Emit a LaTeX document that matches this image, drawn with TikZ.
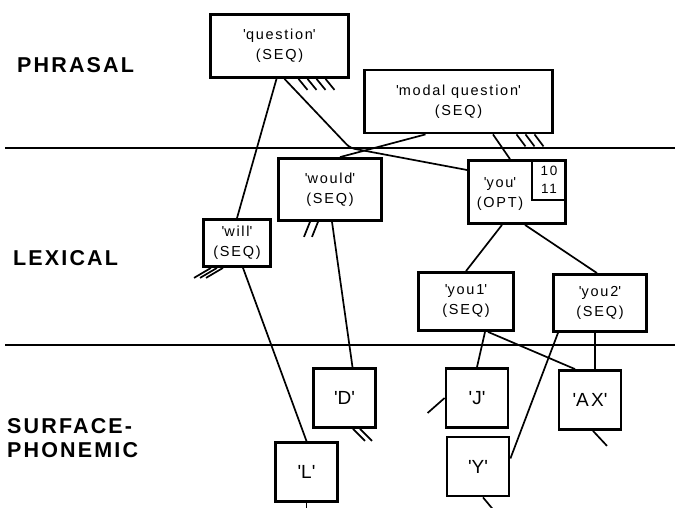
\documentclass[tikz,border=0pt]{standalone}
\usepackage{fontspec}
\setmainfont{Liberation Sans}
\newfontfamily\boxfont[LetterSpace=12]{Liberation Sans}
\newfontfamily\layerfont[LetterSpace=10]{Liberation Sans}
\newcommand\tq{\textquotesingle}
\tikzset{
  unit/.style={draw, line width=2.8pt, align=center, inner sep=0pt,
    font=\boxfont\fontsize{14.5}{20}\selectfont},
  phone/.style={draw, line width=2.8pt, inner sep=0pt, minimum width=62pt,
    minimum height=59pt, font=\boxfont\fontsize{19}{22}\selectfont},
  link/.style={line width=1.7pt},
  stub/.style={line width=1.7pt},
  layer/.style={font=\layerfont\bfseries\fontsize{21.5}{24}\selectfont,
    align=left, inner sep=0pt}
}
\begin{document}
\begin{tikzpicture}[x=1pt,y=-1pt]
  \useasboundingbox (0,0) rectangle (675,508);
  % level names and dividers
  \node[layer, anchor=west] (phrasal) at (17,65) {PHRASAL};
  \node[layer, anchor=west] (lexical) at (13,258) {LEXICAL};
  \node[layer, anchor=west] (surface) at (7,438) {SURFACE-\\PHONEMIC};
  \draw[line width=2pt] (5,148) -- (675,148);
  \draw[line width=2pt] (5,345) -- (675,345);

  % phrasal units
  \node[unit, minimum width=138pt, minimum height=63pt] (question) at (279.5,46) {\tq question\tq\\(SEQ)};
  \node[unit, minimum width=188pt, minimum height=63pt] (modalq) at (458.5,101.5) {\tq modal question\tq\\(SEQ)};

  % lexical units
  \node[unit, minimum width=103pt, minimum height=62pt] (would) at (330,189.5) {\tq would\tq\\(SEQ)};
  \node[unit, minimum width=67pt, minimum height=47pt] (will) at (237,243) {\tq will\tq\\(SEQ)};
  \node[unit, minimum width=97pt, minimum height=63pt] (you) at (517,192) {};
  \node[font=\boxfont\fontsize{14.5}{20}\selectfont, align=center, inner sep=0pt] (youtxt) at (500,194) {\tq you\tq\\(OPT)};
  \node[draw, line width=1.7pt, anchor=north east, minimum width=34pt, minimum height=40pt,
    inner sep=0pt, align=center, font=\boxfont\fontsize{13.5}{18}\selectfont] (youidx) at (you.north east) {10\\11};
  \node[unit, minimum width=95pt, minimum height=58pt] (youA) at (466,301.5) {\tq you1\tq\\(SEQ)};
  \node[unit, minimum width=93pt, minimum height=57pt] (youB) at (600,303) {\tq you2\tq\\(SEQ)};

  % surface-phonemic units
  \node[phone] (pD) at (344.5,398) {\tq D\tq};
  \node[phone] (pJ) at (477,398) {\tq J\tq};
  \node[phone] (pAX) at (590,400) {\tq AX\tq};
  \node[phone] (pL) at (306.5,472) {\tq L\tq};
  \node[phone] (pY) at (478,466.5) {\tq Y\tq};

  % connections
  \coordinate (qbend) at (350,148);
  \draw[link] ([xshift=-3pt]question.south) -- (will.north);
  \draw[link, rounded corners=5pt] ([xshift=5pt]question.south) -- (qbend) -- ([yshift=22pt]you.west);
  \draw[link] ([xshift=-33pt]modalq.south) -- ([xshift=10pt]would.north);
  \draw[link] ([xshift=34.5pt]modalq.south) -- ([xshift=-7pt]you.north);
  \draw[link] ([xshift=-15pt]you.south) -- (youA.north);
  \draw[link] ([xshift=8pt]you.south) -- ([xshift=-3pt]youB.north);
  \draw[link] ([xshift=2pt]would.south) -- ([xshift=8pt]pD.north);
  \draw[link] ([xshift=6pt]will.south) -- (pL.north);
  \draw[link] ([xshift=19pt]youA.south) -- (pJ.north);
  \draw[link] ([xshift=22pt]youA.south) -- ([xshift=-15pt]pAX.north);
  \draw[link] ([xshift=-42pt]youB.south) -- ([yshift=8pt]pY.east);
  \draw[link] ([xshift=-5pt]youB.south) -- ([xshift=5pt]pAX.north);

  % loose ends
  \foreach \dx in {19,28,37,46}
    \draw[stub] ([xshift=\dx pt]question.south) -- ++(9,11);
  \foreach \dx in {58,67,76}
    \draw[stub] ([xshift=\dx pt]modalq.south) -- ++(9,12);
  \foreach \dx in {-20,-12}
    \draw[stub] ([xshift=\dx pt]would.south) -- ++(-6,15);
  \foreach \dx in {-26,-20,-14}
    \draw[stub] ([xshift=\dx pt]will.south) -- ++(-17,10);
  \foreach \dx in {8.5,15.5}
    \draw[stub] ([xshift=\dx pt]pD.south) -- ++(12,12);
  \draw[stub] (pJ.west) -- ++(-17,15);
  \draw[stub] ([xshift=3pt]pAX.south) -- ++(14,15);
  \draw[stub] (pL.south) -- ++(0,8);
  \draw[stub] ([xshift=5pt]pY.south) -- ++(10,12);
\end{tikzpicture}
\end{document}
